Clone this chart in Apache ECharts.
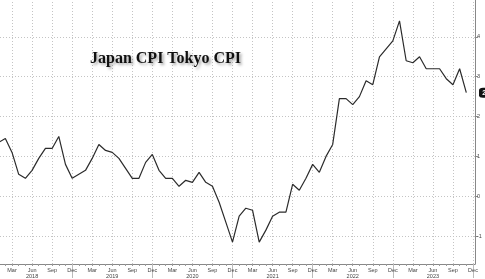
<!DOCTYPE html>
<html><head><meta charset="utf-8">
<script src="https://cdn.jsdelivr.net/npm/echarts@6/dist/echarts.min.js"></script>
<style>html,body{margin:0;padding:0;background:#fff}#c{width:485px;height:279px}</style>
</head><body><div id="c"></div>
<script>
// Tokyo CPI YoY %, monthly, Jan 2018 .. Nov 2023 (index 0 = Jan 2018)
const cpi = [1.35,1.45,1.1,0.55,0.45,0.65,0.95,1.2,1.2,1.5,0.8,0.45,
  0.55,0.65,0.95,1.3,1.15,1.1,0.95,0.7,0.45,0.45,0.85,1.05,
  0.65,0.45,0.45,0.25,0.4,0.35,0.6,0.35,0.25,-0.15,-0.65,-1.15,
  -0.5,-0.3,-0.35,-1.15,-0.85,-0.5,-0.4,-0.4,0.3,0.15,0.45,0.8,
  0.6,1.0,1.3,2.45,2.45,2.3,2.5,2.9,2.8,3.5,3.7,3.9,
  4.4,3.4,3.35,3.5,3.2,3.2,3.2,2.95,2.8,3.2,2.6];
const monthNames = ['Jan','Feb','Mar','Apr','May','Jun','Jul','Aug','Sep','Oct','Nov','Dec'];
const years = ['2018','2019','2020','2021','2022','2023'];
const labelMonths = ['Mar','Jun','Sep','Dec'];
const yTicks = [-1,0,1,2,3,4];
const title = 'Japan CPI Tokyo CPI';

const nMonths = years.length*12;
const labelIdx = [], allIdx = [], decIdx = [];
for (let i=0;i<nMonths;i++){
  const m = monthNames[i%12];
  allIdx.push(i);
  if (labelMonths.indexOf(m)>=0) labelIdx.push(i);
  if (m==='Dec') decIdx.push(i);
}
const pts = cpi.map((v,i)=>[i,v]);
const xMin = 0.2, xMax = 71.3;
const last = cpi[cpi.length-1];
const gridDot = {color:'#c4c4c4', type:[1,2], width:1};

const chart = echarts.init(document.getElementById('c'), null, {renderer:'canvas'});
const baseX = {type:'value', min:xMin, max:xMax, position:'bottom', gridIndex:0};
chart.setOption({
  animation:false,
  title:{text:title, left:85, top:46,
    textStyle:{fontFamily:'Liberation Serif', fontWeight:'bold', fontSize:16, color:'#111',
      textShadowColor:'rgba(0,0,0,0.35)', textShadowBlur:3, textShadowOffsetX:2, textShadowOffsetY:2}},
  grid:{left:0, right:10, top:0, bottom:14, containLabel:false},
  xAxis:[
    Object.assign({}, baseX, {
      axisLine:{show:true, onZero:false, lineStyle:{color:'#888', width:1}},
      axisTick:{show:true, customValues:labelIdx, length:2, lineStyle:{color:'#888'}},
      axisLabel:{customValues:labelIdx, fontSize:5.5, color:'#444', margin:3, lineHeight:6,
        fontFamily:'Liberation Sans',
        formatter:function(v){const i=Math.round(v); const m=monthNames[i%12];
          return m==='Jun' ? m+'\n'+years[Math.floor(i/12)] : m;}},
      splitLine:{show:false}
    }),
    Object.assign({}, baseX, {
      axisLine:{show:false, onZero:false},
      axisTick:{show:true, customValues:allIdx, length:2, lineStyle:{color:'#999'}},
      axisLabel:{show:false}, splitLine:{show:false}
    }),
    Object.assign({}, baseX, {
      axisLine:{show:false, onZero:false},
      axisTick:{show:true, customValues:decIdx, length:14, lineStyle:{color:'#bbb'}},
      axisLabel:{show:false}, splitLine:{show:false}
    })
  ],
  yAxis:{type:'value', position:'right', min:-1.7, max:4.925,
    axisLine:{show:true, lineStyle:{color:'#888'}},
    axisTick:{show:true, customValues:yTicks, length:3, lineStyle:{color:'#888'}},
    axisLabel:{customValues:yTicks, fontSize:5.5, color:'#444', margin:2, fontFamily:'Liberation Sans'},
    splitLine:{show:false}
  },
  series:[{type:'line', data:pts, symbol:'none', clip:true, z:5,
    lineStyle:{color:'#2b2b2b', width:1.2},
    markLine:{silent:true, symbol:'none', label:{show:false}, lineStyle:gridDot, animation:false,
      data: labelIdx.map(i=>({xAxis:i})).concat(yTicks.map(v=>({yAxis:v})))},
    markPoint:{symbol:'roundRect', symbolSize:[16,10], symbolOffset:[12,0], silent:true,
      itemStyle:{color:'#111'},
      label:{show:true, color:'#fff', fontSize:7, fontWeight:'bold', offset:[0,0],
        formatter:function(){return String(last);}},
      data:[{coord:[xMax,last], value:last}]}
  }]
});
</script></body></html>
